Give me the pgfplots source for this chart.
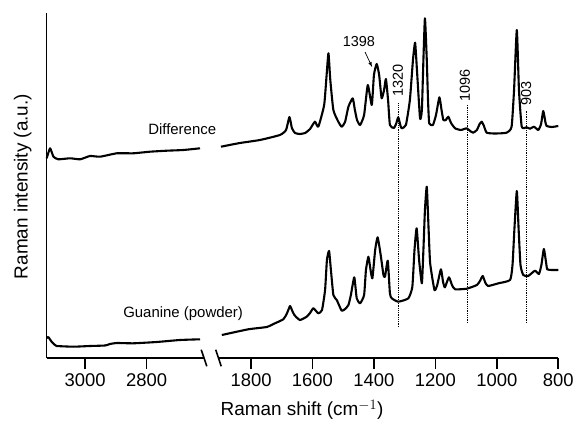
\documentclass[border=0pt]{standalone}
\usepackage{fontspec}
\setmainfont{Liberation Sans}
\usepackage{pgfplots}
\usepackage{pgfplotstable}
\pgfplotsset{compat=1.18}

% Difference spectrum, high-wavenumber segment (real cm^-1)
\pgfplotstableread{
x y
3125 199.7
3114 209.7
3103 201.3
3087 198.7
3049 199.7
3016 198.7
2984 202
2951 201.3
2897 204.7
2843 204.7
2789 206.3
2734 207.3
2680 208
2626 209.7
}\diffL

\pgfplotstableread{
x y
1898 211.3
1836 215
1771 218
1706 223
1686 228
1675 241
1667 230
1657 225
1641 224
1624 225
1608 229
1592 236.3
1581 231.3
1562 253
1554 283
1548 304.7
1542 278
1532 248
1516 236.3
1505 231.3
1494 236
1483 251.3
1469 259.7
1462 248
1455 238
1445 233
1432 243
1420 273
1407 253
1400 283
1391 294
1383 283
1375 259.7
1367 268
1361 279
1354 258
1348 233
1335 230
1328 234
1321 240.7
1315 234
1310 229.7
1296 233
1283 258
1273 298
1266 315.3
1260 288
1250 239.7
1244 248
1239 298
1234 339.7
1228 298
1224 258
1220 234.7
1208 233
1198 243
1187 260.7
1180 248
1174 238
1166 238
1158 241.3
1149 235
1136 229.7
1117 228
1098 229.7
1087 227
1077 225.3
1065 228
1056 234
1049 236.3
1042 232
1033 225.3
1006 224.5
968 225.3
952 231.3
944 268
935 328
928 268
919 231.3
903 230.7
892 229.3
879 231.3
865 228
856 234
849 247
842 236
838 232
821 231
800 232
}\diffR

\pgfplotstableread{
x y
3125 20
3120 21
3109 16.3
3098 13
3093 12
3038 11.3
2984 12
2935 12.5
2919 14
2897 15
2843 14.7
2767 16
2691 18
2626 18.7
}\guaL

\pgfplotstableread{
x y
1895 23
1809 28.7
1749 31
1722 34.7
1695 38.7
1684 44
1673 52
1667 48
1659 43
1641 38
1619 41.3
1608 45
1597 49.7
1581 44.7
1569 48
1559 68
1553 98
1546 107
1540 88
1532 63
1521 58
1505 47.3
1494 49
1483 53
1475 63
1464 80.7
1456 59.7
1445 54.7
1432 63
1426 88
1418 101.3
1411 88
1405 79.7
1396 108
1388 120.7
1378 103
1369 83
1364 81.3
1355 97.3
1348 64.7
1342 59.7
1321 56.3
1288 59.7
1275 71.3
1268 108
1261 129.7
1253 98
1244 74.7
1239 108
1234 148
1228 171.3
1222 128
1217 94.7
1203 68
1194 73
1182 88.7
1175 76
1169 70.7
1156 80.7
1146 73
1136 68.7
1098 69.3
1065 73
1055 77
1046 82
1037 75
1028 72
995 74.7
957 78
949 93
943 128
935 167
929 128
923 93
914 83
898 82
876 87.3
863 84
855 93
847 109
840 96
836 88.7
821 88
800 88
}\guaR

\begin{document}
\begin{tikzpicture}
\begin{axis}[
  at={(0,0)}, anchor=south west,
  scale only axis, width=511.6bp, height=345bp,
  x dir=reverse,
  xmin=800, xmax=2465, ymin=0, ymax=345,
  axis lines=left,
  axis line style={-, line width=1.6bp},
  x axis line style={draw=none},
  ytick=\empty,
  xtick={800,1000,1200,1400,1600,1800,2140,2340},
  xticklabels={800,1000,1200,1400,1600,1800,2800,3000},
  tick align=outside,
  major tick length=11bp,
  xtick style={line width=1.6bp, black},
  /pgf/number format/assume math mode=true,
  xticklabel style={font=\fontsize{18.5}{20}\selectfont, yshift=-1bp},
  clip=false,
  spec/.style={black, line width=2.1bp, line join=round, smooth, tension=0.3},
]
\addplot[spec] table[x expr=\thisrow{x}-660, y=y] {\diffL};
\addplot[spec] table[x=x, y=y] {\diffR};
\addplot[spec] table[x expr=\thisrow{x}-660, y=y] {\guaL};
\addplot[spec] table[x=x, y=y] {\guaR};

% broken x axis line
\draw[line width=1.6bp] (axis cs:2465,0) -- (axis cs:1953,0);
\draw[line width=1.6bp] (axis cs:1906,0) -- (axis cs:800,0);
\draw[line width=1.6bp] ([xshift=-2.8bp,yshift=8.3bp]axis cs:1953,0) -- ([xshift=2.8bp,yshift=-8.3bp]axis cs:1953,0);
\draw[line width=1.6bp] ([xshift=-2.8bp,yshift=8.3bp]axis cs:1906,0) -- ([xshift=2.8bp,yshift=-8.3bp]axis cs:1906,0);

% dotted guide lines
\draw[densely dotted, line width=0.8bp] (axis cs:1320,31) -- (axis cs:1320,255);
\draw[densely dotted, line width=0.8bp] (axis cs:1096,35) -- (axis cs:1096,253);
\draw[densely dotted, line width=0.8bp] (axis cs:903,35) -- (axis cs:903,247);

% peak labels
\node[rotate=90, anchor=west, inner sep=0pt, font=\fontsize{14.5}{16}\selectfont] at (axis cs:1322,261) {1320};
\node[rotate=90, anchor=west, inner sep=0pt, font=\fontsize{14.5}{16}\selectfont] at (axis cs:1104,256) {1096};
\node[rotate=90, anchor=west, inner sep=0pt, font=\fontsize{14.5}{16}\selectfont] at (axis cs:905,252) {903};
\node[font=\fontsize{14.5}{16}\selectfont] at (axis cs:1449,316) {1398};
\draw[-latex, line width=0.7bp] (axis cs:1429,306) -- (axis cs:1406,291);

% spectrum labels
\node[font=\fontsize{15}{17}\selectfont] at (axis cs:2024,229) {Difference};
\node[font=\fontsize{15}{17}\selectfont] at (axis cs:2021,44) {Guanine (powder)};

% axis labels
\node[font=\fontsize{19}{21}\selectfont] at ([yshift=-52bp]rel axis cs:0.499,0) {Raman shift (cm$^{-1}$)};
\node[rotate=90, font=\fontsize{19}{21}\selectfont] at ([xshift=-24bp]rel axis cs:0,0.497) {Raman intensity (a.u.)};
\end{axis}
\pgfresetboundingbox
\path[use as bounding box] (-46.7bp,-68bp) rectangle (528.3bp,358bp);
\end{tikzpicture}
\end{document}
